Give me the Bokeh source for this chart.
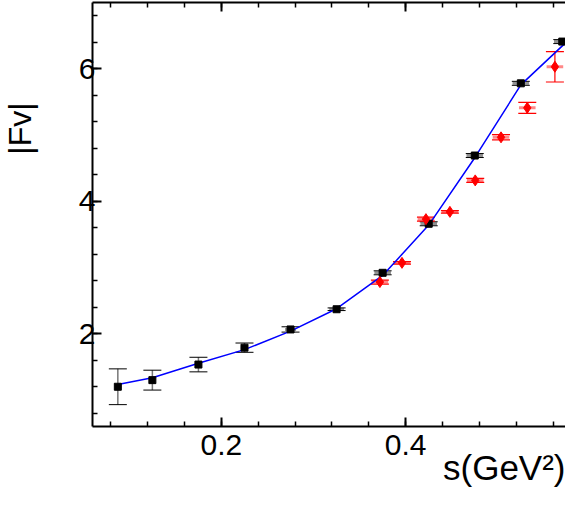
from bokeh.plotting import figure
from bokeh.models import (ColumnDataSource, Whisker, TeeHead, Title, LinearAxis,
                          SingleIntervalTicker, Range1d, CustomJSTickFormatter)
from bokeh.embed import file_html
from bokeh.resources import INLINE

# ---- data ----
black_s = [0.0875, 0.125, 0.175, 0.225, 0.275, 0.325, 0.375, 0.425, 0.475, 0.525, 0.570]
black_f = [1.20, 1.30, 1.535, 1.79, 2.065, 2.37, 2.92, 3.66, 4.69, 5.78, 6.41]
black_ferr = [0.27, 0.15, 0.11, 0.07, 0.04, 0.02, 0.03, 0.03, 0.03, 0.03, 0.03]
black_serr = [0.0, 0.0, 0.0, 0.004, 0.006, 0.008, 0.009, 0.009, 0.009, 0.009, 0.009]

red_s = [0.372, 0.396, 0.422, 0.448, 0.4755, 0.5035, 0.532, 0.562]
red_f = [2.78, 3.07, 3.73, 3.84, 4.315, 4.965, 5.41, 6.03]
red_ferr = [0.03, 0.02, 0.03, 0.02, 0.03, 0.04, 0.083, 0.23]
red_serr = [0.009, 0.009, 0.009, 0.009, 0.009, 0.009, 0.009, 0.009]

curve_s = [0.0875, 0.125, 0.175, 0.225, 0.275, 0.325, 0.375, 0.425, 0.475, 0.525, 0.5735]
curve_f = [1.235, 1.335, 1.555, 1.76, 2.04, 2.378, 2.88, 3.64, 4.657, 5.756, 6.39]

x_ticks = [0.2, 0.4]
y_ticks = [2, 4, 6]
x_title = "s(GeV²)"
y_title = "|Fv|"

FONT = "Liberation Sans"
FS = "30px"

p = figure(width=565, height=489, output_backend="svg", toolbar_location=None,
           x_range=Range1d(0.06, 0.5735), y_range=Range1d(0.6, 7.0),
           min_border_left=92, min_border_right=0, min_border_top=2, min_border_bottom=63,
           x_axis_location=None, y_axis_location=None)
p.outline_line_color = None
p.xgrid.visible = False
p.ygrid.visible = False
p.background_fill_color = "white"
p.border_fill_color = "white"

def style_axis(ax):
    ax.axis_line_width = 2
    ax.axis_line_color = "black"
    ax.major_tick_in = 9
    ax.major_tick_out = 0
    ax.minor_tick_in = 5
    ax.minor_tick_out = 0
    ax.major_tick_line_width = 2
    ax.minor_tick_line_width = 1.5
    ax.major_label_text_font = FONT
    ax.major_label_text_color = "black"
    ax.major_label_text_font_size = FS

xb = LinearAxis(ticker=SingleIntervalTicker(interval=0.2, num_minor_ticks=5))
style_axis(xb)
xb.major_label_standoff = 8
xb.major_label_overrides = {t: f"{t:.1f}" for t in x_ticks}
p.add_layout(xb, "below")

xt = LinearAxis(ticker=SingleIntervalTicker(interval=0.2, num_minor_ticks=5))
style_axis(xt)
xt.formatter = CustomJSTickFormatter(code="return ''")
xt.major_label_standoff = 0
xt.major_label_text_font_size = "1px"
p.add_layout(xt, "above")

yl = LinearAxis(ticker=SingleIntervalTicker(interval=2, num_minor_ticks=5))
style_axis(yl)
yl.major_label_standoff = -3
yl.major_label_overrides = {t: str(t) for t in y_ticks}
p.add_layout(yl, "left")

p.add_layout(Title(text=x_title, align="right", text_font=FONT, text_font_size="35px",
                   text_font_style="normal", text_color="black",
                   standoff=-24, offset=0), "below")
# two-line box (second line empty) keeps the label at the far left edge
p.add_layout(Title(text=y_title + "\n", align="right", vertical_align="top",
                   text_font=FONT, text_font_size="32px", text_font_style="normal",
                   text_color="black", standoff=0, offset=100), "left")

bsrc = ColumnDataSource(dict(
    x=black_s, y=black_f,
    ylo=[f - e for f, e in zip(black_f, black_ferr)],
    yhi=[f + e for f, e in zip(black_f, black_ferr)],
    xlo=[s - e for s, e in zip(black_s, black_serr)],
    xhi=[s + e for s, e in zip(black_s, black_serr)],
))
rsrc = ColumnDataSource(dict(
    x=red_s, y=red_f,
    ylo=[f - e for f, e in zip(red_f, red_ferr)],
    yhi=[f + e for f, e in zip(red_f, red_ferr)],
    xlo=[s - e for s, e in zip(red_s, red_serr)],
    xhi=[s + e for s, e in zip(red_s, red_serr)],
))

# x error bars (thick, translucent)
p.add_layout(Whisker(source=bsrc, base="y", lower="xlo", upper="xhi", dimension="width",
                     line_color="#777777", line_alpha=0.8, line_width=3,
                     upper_head=None, lower_head=None, level="underlay"))
p.add_layout(Whisker(source=rsrc, base="y", lower="xlo", upper="xhi", dimension="width",
                     line_color="#ff5555", line_alpha=0.7, line_width=3,
                     upper_head=None, lower_head=None, level="underlay"))

# y error bars
p.add_layout(Whisker(source=bsrc, base="x", lower="ylo", upper="yhi", dimension="height",
                     line_color="#777777", line_width=1.5,
                     upper_head=TeeHead(size=18, line_color="black", line_width=1),
                     lower_head=TeeHead(size=18, line_color="black", line_width=1),
                     level="underlay"))
p.add_layout(Whisker(source=rsrc, base="x", lower="ylo", upper="yhi", dimension="height",
                     line_color="red", line_width=1.2,
                     upper_head=TeeHead(size=18, line_color="red", line_width=1.2),
                     lower_head=TeeHead(size=18, line_color="red", line_width=1.2),
                     level="underlay"))

p.line(curve_s, curve_f, line_color="#0000ff", line_width=1.5)
p.scatter("x", "y", source=bsrc, marker="square", size=7, color="black")
p.scatter("x", "y", source=rsrc, marker="diamond", size=11, color="red")

open("out.html", "w").write(file_html(p, INLINE))
